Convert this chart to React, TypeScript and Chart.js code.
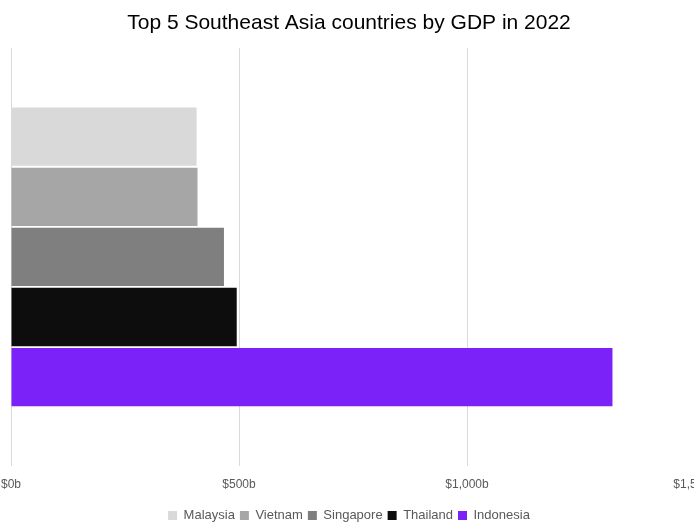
import React, { useEffect, useRef } from "react";
import { Chart, registerables } from "chart.js";
Chart.register(...registerables);

const categories = ["GDP 2022"];
const countries = ["Malaysia", "Vietnam", "Singapore", "Thailand", "Indonesia"];
const gdpValues = [407, 409, 467, 495, 1319];
const colors = ["#d9d9d9", "#a6a6a6", "#7f7f7f", "#0d0d0d", "#7a22f7"];
const tickValues = [0, 500, 1000, 1500];

export default function App() {
  const ref = useRef<HTMLCanvasElement>(null);
  useEffect(() => {
    const chart = new Chart(ref.current!, {
      type: "bar",
      data: {
        labels: categories,
        datasets: countries.map((c, i) => ({
          label: c,
          data: [gdpValues[i]],
          backgroundColor: colors[i],
          categoryPercentage: 0.72,
          barPercentage: 0.97,
        })),
      },
      options: {
        indexAxis: "y",
        animation: false,
        responsive: false,
        layout: { padding: { left: 33, right: 35, top: 11, bottom: 0 } },
        plugins: {
          title: {
            display: true,
            text: "Top 5 Southeast Asia countries by GDP in 2022",
            color: "#000",
            font: { family: "Liberation Sans", size: 21, weight: "normal" },
            padding: { top: 0, bottom: 12 },
          },
          legend: {
            position: "bottom",
            labels: {
              boxWidth: 9,
              boxHeight: 9,
              color: "#595959",
              font: { family: "Liberation Sans", size: 13 },
              padding: 5,
            },
          },
          tooltip: { enabled: false },
        },
        scales: {
          x: {
            min: 0,
            max: 1500,
            afterBuildTicks: (s: any) => { s.ticks = tickValues.map((v) => ({ value: v })); },
            ticks: {
              color: "#595959",
              font: { family: "Liberation Sans", size: 12 },
              padding: 12,
              callback: (v: any) => "$" + Number(v).toLocaleString("en-US") + "b",
            },
            grid: { color: "#d9d9d9", drawTicks: false },
            border: { display: false },
          },
          y: {
            ticks: { display: false },
            grid: { display: false },
            border: { display: false },
          },
        },
      },
    });
    return () => chart.destroy();
  }, []);
  return (
    <div style={{ position: "absolute", left: -30, top: 0, width: 760, height: 532 }}>
      <canvas ref={ref} width={760} height={532} />
    </div>
  );
}
